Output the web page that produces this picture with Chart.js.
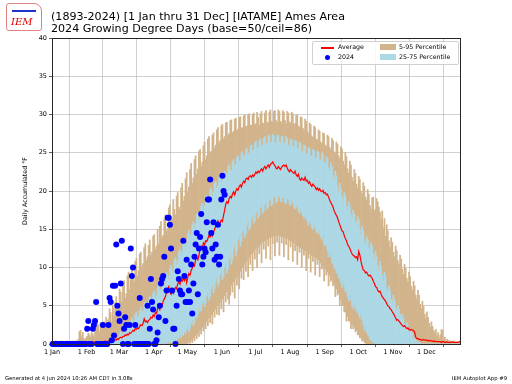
<!DOCTYPE html>
<html>
<head>
<meta charset="utf-8">
<title>2024 Growing Degree Days - Ames Area</title>
<script src="https://cdn.jsdelivr.net/npm/chart.js@4/dist/chart.umd.min.js"></script>
<style>
    body { margin: 0; width: 512px; height: 384px; position: relative; background: #fff; overflow: hidden; font-family: 'DejaVu Sans', sans-serif; }
    #chart { position: absolute; left: 0; top: 0; }
    #title { position: absolute; left: 51px; top: 11px; font-size: 11.1px; line-height: 12px; color: #000; white-space: nowrap; }
    #logo { position: absolute; left: 6px; top: 3px; width: 34px; height: 26px; border: 1px solid #e08080; border-radius: 3px 8px 3px 3px; }
    #logo span { position: absolute; left: 4px; top: 12px; color: #d00; font: italic 10px 'DejaVu Serif', serif; }
    #logo i { position: absolute; left: 5px; top: 6px; width: 24px; height: 2px; background: #2233cc; }
    #legend { position: absolute; left: 312px; top: 41px; width: 145px; height: 22px; border: 1px solid #d0d0d0; border-radius: 2px; background: rgba(255,255,255,0.85); font-size: 6.3px; color: #000; }
    .item { position: absolute; white-space: nowrap; }
    .swatch { position: absolute; }
    .foot { position: absolute; top: 375px; font-size: 5.3px; color: #000; white-space: nowrap; }
</style>
</head>
<body>
<canvas id="chart" width="512" height="384"></canvas>
<div id="logo"><i></i><span>IEM</span></div>
<div id="title">(1893-2024) [1 Jan thru 31 Dec] [IATAME] Ames Area<br>2024 Growing Degree Days (base=50/ceil=86)</div>
<div id="legend">
    <div class="swatch" style="left:8px;top:5px;width:13px;height:1.5px;background:#ff0000"></div>
    <div class="item" style="left:25px;top:1px">Average</div>
    <div class="swatch" style="left:12px;top:13px;width:5px;height:5px;border-radius:50%;background:#0000ff"></div>
    <div class="item" style="left:25px;top:11px">2024</div>
    <div class="swatch" style="left:67px;top:2px;width:16px;height:6px;background:#d2b48c"></div>
    <div class="item" style="left:86px;top:1px">5-95 Percentile</div>
    <div class="swatch" style="left:67px;top:12px;width:16px;height:6px;background:#add8e6"></div>
    <div class="item" style="left:86px;top:11px">25-75 Percentile</div>
</div>
<div class="foot" style="left:5px">Generated at 4 Jun 2024 10:26 AM CDT in 3.08s</div>
<div class="foot" style="right:5px">IEM Autoplot App #9</div>

<script>
// Month ticks (day of year, leap year)
const monthStarts = [0, 31, 60, 91, 121, 152, 182, 213, 244, 274, 305, 335];
const monthLabels = ['1 Jan', '1 Feb', '1 Mar', '1 Apr', '1 May', '1 Jun', '1 Jul', '1 Aug', '1 Sep', '1 Oct', '1 Nov', '1 Dec'];
const yTicks = [0, 5, 10, 15, 20, 25, 30, 35, 40];

// Daily average GDD (1893-2024)
const avgGdd = [
    0.0,0.0,0.0,0.1,0.0,0.0,0.0,0.0,0.1,0.0, 0.0,0.0,0.0,0.0,0.0,0.1,0.0,0.0,0.0,0.0,
    0.0,0.1,0.0,0.1,0.2,0.1,0.0,0.1,0.1,0.0, 0.1,0.1,0.2,0.1,0.2,0.2,0.1,0.2,0.3,0.2,
    0.2,0.3,0.3,0.2,0.3,0.3,0.3,0.4,0.3,0.3, 0.4,0.5,0.4,0.4,0.5,0.5,0.6,0.5,0.7,0.6,
    0.8,0.9,0.8,1.0,1.0,1.2,1.1,1.3,1.2,1.5, 1.4,1.6,1.8,1.7,2.0,1.9,2.1,2.0,2.3,2.5,
    2.4,2.7,3.3,2.9,3.0,2.8,3.1,3.2,3.5,3.4, 3.8,3.6,4.1,4.0,4.6,4.9,4.5,5.2,5.0,5.6,
    5.9,6.2,6.8,7.2,7.5,6.8,6.5,6.9,6.6,7.0, 7.4,7.2,7.9,8.1,7.8,8.4,8.2,8.6,8.3,8.9,
    8.0,8.7,9.2,9.0,9.6,9.9,10.4,10.2,11.0,11.3, 11.0,11.6,12.4,12.8,12.6,13.2,13.0,13.5,13.4,13.8,
    14.2,14.0,14.4,14.1,14.6,15.0,15.4,15.8,16.1,15.7, 15.9,16.2,16.0,16.8,17.5,18.3,18.6,18.4,19.0,19.3,
    19.1,19.6,19.9,19.5,20.0,20.3,20.1,20.6,20.8,20.5, 21.0,21.3,21.1,21.6,21.7,21.5,21.9,22.0,21.8,22.1,
    21.9,22.2,22.5,22.3,22.6,22.4,22.7,22.9,22.6,23.0, 23.2,22.9,23.2,23.4,23.1,23.5,23.6,23.8,23.5,23.3,
    23.0,22.9,23.2,23.0,22.8,23.1,23.3,23.4,23.2,23.4, 23.0,22.7,22.5,22.8,22.6,22.4,22.3,22.6,22.1,21.9,
    22.2,21.6,21.4,21.7,21.5,21.4,21.8,21.3,21.4,21.0, 21.2,20.8,20.6,20.9,20.7,20.5,20.2,20.4,20.1,20.3,
    20.0,19.9,20.1,19.7,19.8,19.5,19.6,19.2,18.8,18.5, 18.2,17.9,17.4,17.1,16.8,16.5,16.0,15.6,15.2,14.8,
    14.7,14.2,13.8,13.5,13.0,12.8,12.5,12.1,11.8,11.6, 11.5,11.3,11.4,11.0,12.1,11.6,10.8,10.2,9.7,9.6,
    9.3,9.4,9.1,8.9,9.0,8.8,8.6,8.2,7.9,7.5, 7.4,7.0,6.8,6.9,6.5,6.2,6.0,5.8,5.6,5.3,
    5.0,4.9,4.6,4.5,4.2,4.0,3.7,3.4,3.1,3.2, 3.0,2.8,2.6,2.4,2.3,2.4,2.2,2.0,2.1,1.9,
    1.8,1.9,1.8,1.8,1.5,0.9,0.7,0.7,0.6,0.6, 0.5,0.5,0.6,0.5,0.5,0.5,0.4,0.5,0.4,0.4,
    0.4,0.3,0.4,0.3,0.3,0.3,0.3,0.3,0.2,0.3, 0.3,0.2,0.2,0.3,0.2,0.2,0.2,0.2,0.3,0.2,
    0.2,0.2,0.2,0.2,0.3,0.3
];

// 95th percentile (top of tan bars)
const p95 = [
    0.2,0.3,0.2,0.4,0.3,0.2,0.3,0.2,0.4,0.3, 0.2,0.3,0.2,0.4,0.2,0.3,0.3,0.2,0.4,0.3,
    0.3,0.4,0.3,0.6,1.6,1.8,0.9,1.5,0.7,0.5, 0.8,1.0,1.4,1.2,0.9,1.5,1.3,1.0,1.9,2.2,
    2.7,2.5,1.6,2.8,2.4,2.0,2.9,2.6,3.5,2.8, 3.2,4.6,4.1,2.9,5.0,3.6,5.4,6.2,4.4,5.1,
    7.2,6.8,5.5,7.9,8.3,6.0,6.6,8.9,9.4,7.1, 8.4,10.3,9.0,8.1,10.8,11.2,8.9,9.6,11.8,12.0,
    10.1,10.5,12.6,13.1,10.9,11.4,12.9,13.6,11.6,12.0, 14.1,14.3,12.4,12.8,15.0,13.1,15.4,16.0,13.9,14.2,
    16.3,16.9,14.8,15.1,17.8,18.2,15.7,16.3,18.9,17.6, 16.9,19.3,19.8,17.9,17.6,20.4,21.0,18.7,19.3,21.6,
    22.4,19.8,20.5,22.8,23.6,21.0,21.7,24.1,24.6,22.2, 22.9,25.2,25.4,23.2,23.8,25.9,26.4,24.1,24.6,26.8,
    27.1,25.0,25.2,27.3,27.6,25.6,26.0,28.0,28.3,26.3, 26.6,28.5,28.7,26.8,27.1,28.9,29.0,27.3,27.5,29.2,
    29.3,27.6,27.8,29.4,29.5,27.9,28.1,29.6,29.7,28.2, 28.3,29.8,30.0,28.4,28.5,29.9,30.1,28.6,28.6,30.0,
    30.2,28.7,28.8,30.3,29.6,28.6,30.1,30.4,28.9,28.8, 30.2,30.5,29.0,28.9,30.3,30.6,29.1,28.9,30.4,30.5,
    29.2,29.0,30.6,30.4,29.1,28.9,30.5,30.3,29.2,28.8, 30.4,30.2,29.0,28.9,30.3,30.1,28.7,28.8,29.9,30.0,
    28.5,28.3,29.7,29.6,28.2,27.9,29.4,29.1,27.8,27.5, 28.9,28.7,27.2,27.0,28.5,28.3,26.8,26.7,28.0,27.8,
    26.4,26.2,27.6,27.5,26.0,25.8,27.3,27.1,25.7,25.4, 26.9,26.6,25.1,24.9,26.4,26.1,24.6,24.2,25.8,25.5,
    23.9,23.4,25.0,24.5,22.9,22.3,23.9,23.4,21.8,21.3, 22.8,22.3,20.9,20.4,21.9,21.5,20.0,19.6,21.1,20.6,
    19.2,18.8,20.2,19.6,18.1,17.6,19.1,19.2,17.4,17.6, 19.0,18.6,17.9,17.2,16.3,17.4,15.2,16.4,14.1,15.6,
    14.8,13.5,12.6,13.9,13.3,12.0,11.4,12.8,12.2,10.9, 10.4,11.6,11.1,9.8,9.1,10.4,9.9,8.6,8.1,9.4,
    8.8,7.5,7.0,8.2,7.6,6.4,5.9,7.0,6.4,5.2, 4.6,5.6,4.9,3.9,3.3,4.2,3.5,2.7,2.2,2.9,
    2.3,1.8,1.5,1.9,1.1,1.5,0.8,1.2,1.9,1.8, 0.5,0.9,0.4,0.6,0.3,0.5,0.3,0.4,0.2,0.4,
    0.3,0.2,0.3,0.2,0.3,0.2
];

// 75th percentile (top of light blue bars)
const p75 = [
    0,0,0,0,0,0,0,0,0,0, 0,0,0,0,0,0,0,0,0,0,
    0,0,0,0,0,0,0,0,0,0, 0,0,0,0,0,0,0,0,0,0,
    0,0,0,0,0,0,0,0,0,0, 0.1,0.2,0.1,0.3,0.2,0.4,0.3,0.6,0.5,0.8,
    1.2,1.6,1.0,1.3,2.2,1.9,1.6,2.6,2.3,1.9, 3.0,3.4,2.7,3.1,3.8,4.2,3.3,3.6,4.4,4.8,
    4.1,4.3,5.2,5.5,4.6,4.9,5.8,6.2,5.2,5.6, 6.6,6.9,6.0,6.3,7.4,7.8,6.8,7.1,8.3,8.0,
    7.5,8.4,9.3,8.9,8.4,9.8,10.3,9.4,9.8,10.9, 11.3,10.3,10.9,12.0,12.4,11.5,12.0,13.3,13.6,12.6,
    13.2,14.4,14.9,13.9,14.4,15.6,16.0,15.1,15.7,16.9, 17.2,16.3,16.8,18.0,18.4,17.4,18.0,19.1,19.4,18.4,
    19.0,20.1,20.4,19.4,19.9,21.0,21.3,20.3,20.7,21.7, 22.0,21.1,21.4,22.4,22.6,21.8,22.2,23.2,23.4,22.5,
    22.8,23.8,24.1,23.1,23.5,24.4,24.6,23.8,24.0,24.9, 25.1,24.3,24.6,25.4,25.6,24.8,25.0,25.9,26.0,25.2,
    25.4,26.3,26.5,25.6,25.7,26.6,26.8,25.9,26.0,26.9, 27.1,26.1,26.2,27.2,27.3,26.3,26.4,27.4,27.2,26.3,
    26.2,27.2,27.3,26.4,26.2,27.1,27.2,26.1,26.3,27.1, 26.9,26.0,25.9,26.8,26.7,25.8,25.7,26.6,26.5,25.6,
    25.5,26.4,26.2,25.2,25.1,26.0,25.9,24.9,24.8,25.7, 25.6,24.6,24.5,25.4,25.3,24.3,24.2,25.2,25.1,24.1,
    24.0,25.0,24.8,23.8,23.5,24.5,24.2,23.0,22.6,23.7, 23.2,22.0,21.4,22.6,22.0,20.6,19.8,21.0,20.3,19.2,
    18.6,19.8,19.3,18.0,17.4,18.6,18.0,16.9,16.4,17.5, 17.0,16.0,15.6,16.6,16.2,15.0,14.2,15.4,14.8,13.4,
    13.0,14.0,13.6,12.6,12.2,13.2,12.8,11.8,11.0,12.1, 11.4,10.2,9.6,10.8,10.2,9.0,8.2,9.4,8.8,7.2,
    6.8,7.6,7.0,5.8,5.4,6.4,5.8,4.8,4.4,5.0, 4.6,3.8,3.4,3.9,3.4,2.6,2.4,2.8,2.3,1.8,
    1.6,1.9,1.4,0.8,0.6,0.7,0.3,0.2,0.3,0.1, 0,0,0,0,0,0,0,0,0,0,
    0,0,0,0,0,0,0,0,0,0, 0,0,0,0,0,0,0,0,0,0,
    0,0,0,0,0,0
];

// 25th percentile (bottom of light blue bars)
const p25 = [
    0,0,0,0,0,0,0,0,0,0, 0,0,0,0,0,0,0,0,0,0,
    0,0,0,0,0,0,0,0,0,0, 0,0,0,0,0,0,0,0,0,0,
    0,0,0,0,0,0,0,0,0,0, 0,0,0,0,0,0,0,0,0,0,
    0,0,0,0,0,0,0,0,0,0, 0,0,0,0,0,0,0,0,0,0,
    0,0,0,0,0,0,0,0,0,0, 0,0,0,0,0,0,0,0,0,0,
    0.1,0.0,0.2,0.1,0.3,0.2,0.4,0.2,0.5,0.4, 0.7,0.5,0.9,0.7,1.1,0.9,1.3,1.1,1.6,1.4,
    1.9,2.3,1.6,2.0,2.7,3.2,2.4,2.8,3.8,3.4, 3.9,4.9,4.3,4.4,5.3,5.8,4.9,5.3,6.3,6.8,
    5.8,6.2,7.3,7.7,6.7,7.2,8.1,8.6,7.6,8.0, 9.0,9.5,8.4,8.8,10.0,10.6,9.3,9.8,11.2,11.8,
    10.4,11.0,12.4,13.0,11.6,12.2,13.6,14.1,12.8,13.4, 14.6,15.1,13.9,14.4,15.6,16.0,14.9,15.3,16.4,16.8,
    15.8,16.1,17.1,17.5,16.5,16.8,17.8,18.1,17.1,17.4, 18.3,18.6,17.6,17.9,18.8,19.0,18.1,18.3,19.2,19.3,
    18.5,18.6,19.4,19.3,18.7,18.6,19.2,19.1,18.5,18.4, 19.0,18.9,18.3,18.1,18.7,18.5,17.9,17.7,18.2,17.9,
    17.4,17.1,17.6,17.2,16.8,16.4,16.8,16.4,16.0,15.5, 16.0,15.8,15.2,15.0,15.5,15.2,14.7,14.4,14.8,14.4,
    14.0,13.6,14.2,13.0,12.8,13.0,12.2,11.4,12.2,11.4, 10.6,10.6,10.0,9.8,9.2,9.4,8.6,8.8,8.0,7.4,
    8.2,7.6,6.8,7.0,6.2,5.6,6.4,5.8,5.0,4.6, 5.2,4.8,4.2,4.4,3.8,3.4,4.0,3.2,2.6,1.8,
    2.4,1.6,1.2,1.0,0.6,0.5,0.3,0.2,0.1,0, 0,0,0,0,0,0,0,0,0,0,
    0,0,0,0,0,0,0,0,0,0, 0,0,0,0,0,0,0,0,0,0,
    0,0,0,0,0,0,0,0,0,0, 0,0,0,0,0,0,0,0,0,0,
    0,0,0,0,0,0,0,0,0,0, 0,0,0,0,0,0,0,0,0,0,
    0,0,0,0,0,0
];

// 5th percentile (bottom of tan bars)
const p5 = [
    0,0,0,0,0,0,0,0,0,0, 0,0,0,0,0,0,0,0,0,0,
    0,0,0,0,0,0,0,0,0,0, 0,0,0,0,0,0,0,0,0,0,
    0,0,0,0,0,0,0,0,0,0, 0,0,0,0,0,0,0,0,0,0,
    0,0,0,0,0,0,0,0,0,0, 0,0,0,0,0,0,0,0,0,0,
    0,0,0,0,0,0,0,0,0,0, 0,0,0,0,0,0,0,0,0,0,
    0,0,0,0,0,0,0,0,0,0, 0,0,0,0,0,0,0,0,0,0,
    0.1,0.0,0.3,0.1,0.5,0.2,0.8,0.4,1.1,0.7, 1.4,1.0,1.8,1.3,2.2,1.7,2.6,2.0,3.0,2.4,
    3.4,2.8,3.8,2.6,4.2,3.5,4.6,3.9,5.0,3.8, 5.4,4.6,5.9,4.2,6.3,5.5,6.8,5.9,5.2,6.4,
    7.7,6.8,8.1,6.0,8.6,7.7,9.0,7.2,9.5,8.6, 10.0,8.4,10.4,9.5,10.9,8.8,11.3,10.4,11.7,9.6,
    12.0,11.1,12.4,10.0,12.7,11.8,13.0,10.6,13.3,12.4, 13.5,11.2,13.7,12.8,13.9,11.0,14.0,13.1,14.1,11.5,
    14.2,13.3,14.2,11.6,14.1,13.2,14.0,11.4,13.9,13.0, 13.8,11.0,13.6,12.7,13.4,10.8,13.2,12.2,12.9,10.4,
    12.8,12.0,12.6,10.0,12.4,11.6,12.2,9.6,12.0,11.2, 11.8,9.4,11.6,10.8,11.4,9.0,11.2,10.4,11.0,8.8,
    10.6,9.8,10.2,8.2,9.8,9.0,9.4,7.6,9.0,8.2, 8.4,7.6,7.8,6.2,7.2,6.4,6.6,5.0,5.8,5.0,
    5.0,4.2,4.2,3.0,3.6,3.0,3.0,2.0,2.6,2.0, 2.2,1.6,1.8,1.2,1.2,0.8,0.8,0.4,0.5,0.2,
    0.1,0,0,0,0,0,0,0,0,0, 0,0,0,0,0,0,0,0,0,0,
    0,0,0,0,0,0,0,0,0,0, 0,0,0,0,0,0,0,0,0,0,
    0,0,0,0,0,0,0,0,0,0, 0,0,0,0,0,0,0,0,0,0,
    0,0,0,0,0,0,0,0,0,0, 0,0,0,0,0,0,0,0,0,0,
    0,0,0,0,0,0
];

// 2024 observed daily GDD (1 Jan - 3 Jun)
const gdd2024 = [
    0,0,0,0,0,0,0,0,0,0, 0,0,0,0,0,0,0,0,0,0,
    0,0,0,0,0,0,0,0,0,0, 0,2.0,3.0,0,0,0,2.0,2.5,3.0,5.5,
    0,0,0,0,0,2.5,0,0,0,0, 2.5,6.0,5.5,0.5,7.6,1.1,7.6,13.0,5.0,4.0,
    3.0,7.9,13.5,0,2.0,3.5,2.5,0,0,2.5, 12.5,8.9,10.0,0,2.5,0,0,0,6.0,0,
    0,0,0,0,0,5.0,0,2.0,8.5,5.5, 4.5,0,0,0.5,1.5,3.5,5.0,7.9,8.5,8.9,
    11.4,3.0,7.0,16.5,16.5,15.6,12.5,7.0,2.0,2.0, 0,5.0,9.5,8.5,7.0,6.5,6.5,13.5,8.9,5.5,
    11.0,5.5,7.0,5.5,10.4,4.0,7.9,11.4,13.0,14.5, 6.5,12.5,14.0,17.0,10.4,11.4,12.5,12.0,15.9,18.9,
    18.9,21.5,14.5,12.5,15.9,11.0,13.0,11.4,15.6,10.4, 11.4,18.9,22.0,20.0,19.5
];

// Build chart datasets from the arrays
const tanBars = p5.map((lo, i) => ({ x: i + 0.5, y: [lo, p95[i]] }));
const blueBars = p25.map((lo, i) => ({ x: i + 0.5, y: [lo, p75[i]] }));
const avgLine = avgGdd.map((v, i) => ({ x: i + 0.5, y: v }));
const obsPoints = gdd2024.map((v, i) => ({ x: i + 0.5, y: v }));

// Plot frame like matplotlib spines
const framePlugin = {
    id: 'frame',
    afterDraw(chart) {
        const { ctx, chartArea } = chart;
        ctx.save();
        ctx.strokeStyle = '#262626';
        ctx.lineWidth = 1;
        ctx.strokeRect(chartArea.left + 0.5, chartArea.top + 0.5,
            chartArea.right - chartArea.left - 1, chartArea.bottom - chartArea.top);
        ctx.restore();
    }
};

const tickFont = { family: 'DejaVu Sans', size: 6.5 };

new Chart(document.getElementById('chart'), {
    type: 'bar',
    data: {
        datasets: [{
            type: 'scatter',
            label: '2024',
            data: obsPoints,
            backgroundColor: '#0000ff',
            borderWidth: 0,
            pointRadius: 3,
            clip: false,
            order: 0
        }, {
            type: 'line',
            label: 'Average',
            data: avgLine,
            borderColor: '#ff0000',
            borderWidth: 1.2,
            pointRadius: 0,
            tension: 0,
            order: 1
        }, {
            label: '25-75 Percentile',
            data: blueBars,
            backgroundColor: '#add8e6',
            borderWidth: 0,
            grouped: false,
            barPercentage: 1,
            categoryPercentage: 1,
            order: 2
        }, {
            label: '5-95 Percentile',
            data: tanBars,
            backgroundColor: '#d2b48c',
            borderWidth: 0,
            grouped: false,
            barPercentage: 1,
            categoryPercentage: 1,
            order: 3
        }]
    },
    options: {
        responsive: false,
        animation: false,
        layout: {
            padding: { top: 38, right: 51, left: 0, bottom: 0 }
        },
        plugins: {
            legend: { display: false },
            tooltip: { enabled: false }
        },
        scales: {
            x: {
                type: 'linear',
                min: 0,
                max: 366,
                offset: false,
                z: 1,
                afterBuildTicks: (axis) => {
                    axis.ticks = monthStarts.map(v => ({ value: v }));
                },
                afterFit: (axis) => { axis.height = 40; },
                ticks: {
                    autoSkip: false,
                    maxRotation: 0,
                    padding: 1,
                    color: '#000',
                    font: tickFont,
                    callback: (value) => monthLabels[monthStarts.indexOf(value)]
                },
                grid: {
                    color: 'rgba(176, 176, 176, 0.75)',
                    lineWidth: 0.8,
                    tickLength: 3,
                    tickColor: '#333'
                },
                border: { display: false }
            },
            y: {
                min: 0,
                max: 40,
                z: 1,
                afterBuildTicks: (axis) => {
                    axis.ticks = yTicks.map(v => ({ value: v }));
                },
                afterFit: (axis) => { axis.width = 52; },
                ticks: {
                    padding: 2,
                    color: '#000',
                    font: tickFont
                },
                title: {
                    display: true,
                    text: 'Daily Accumulated °F',
                    color: '#000',
                    font: { family: 'DejaVu Sans', size: 6.3 },
                    padding: { top: 22, bottom: 0 }
                },
                grid: {
                    color: 'rgba(176, 176, 176, 0.75)',
                    lineWidth: 0.8,
                    tickLength: 3,
                    tickColor: '#333'
                },
                border: { display: false }
            }
        }
    },
    plugins: [framePlugin]
});
</script>
</body>
</html>
